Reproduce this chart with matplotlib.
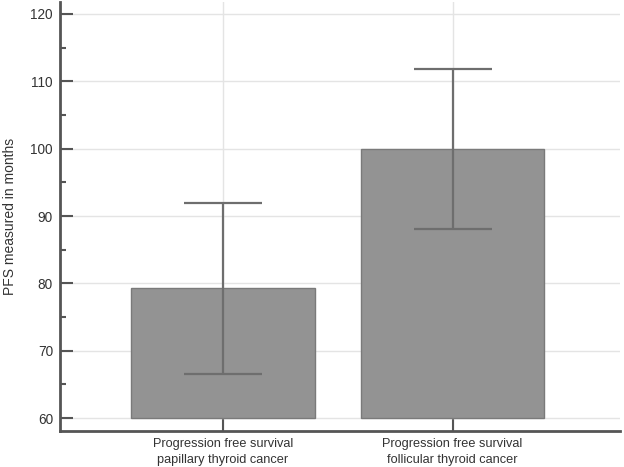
import numpy as np
import matplotlib.pyplot as plt
from matplotlib.ticker import MultipleLocator

plt.rcParams['font.family'] = ['Liberation Sans', 'DejaVu Sans']

# data
categories = ['Progression free survival\npapillary thyroid cancer',
              'Progression free survival\nfollicular thyroid cancer']
pfs_mean = [79.3, 100.0]
pfs_err = [12.7, 11.9]

fig = plt.figure(figsize=(6.24, 4.67), dpi=100)
ax = fig.add_axes([0.096, 0.077, 0.898, 0.919])

x = np.arange(len(categories))
ax.bar(x, [m - 60 for m in pfs_mean], bottom=60, width=0.80,
       color='#939393', edgecolor='#7a7a7a', linewidth=1, zorder=2)
ax.errorbar(x, pfs_mean, yerr=pfs_err, fmt='none', ecolor='#6e6e6e',
            elinewidth=1.6, capsize=28, capthick=1.6, zorder=3)

ax.set_ylim(58.07, 121.8)
ax.set_xlim(-0.71, 1.73)
ax.yaxis.set_major_locator(MultipleLocator(10))
ax.yaxis.set_minor_locator(MultipleLocator(5))
ax.set_xticks(x)
ax.set_xticklabels(categories, fontsize=9.2, color='#333333', linespacing=1.45)
ax.tick_params(axis='y', labelsize=9.8, labelcolor='#333333', pad=5)
ax.tick_params(which='both', direction='in', color='#555555', width=1.5)
ax.tick_params(which='major', length=9)
ax.tick_params(which='minor', length=4)
ax.tick_params(axis='x', length=9, pad=5)
ax.set_ylabel('PFS measured in months', fontsize=10, color='#333333', labelpad=10)

ax.grid(True, color='#e4e4e4', linewidth=1, zorder=0)
ax.set_axisbelow(True)
for s in ['top', 'right']:
    ax.spines[s].set_visible(False)
for s in ['left', 'bottom']:
    ax.spines[s].set_color('#555555')
    ax.spines[s].set_linewidth(2)

fig.savefig('out.png', dpi=100)
